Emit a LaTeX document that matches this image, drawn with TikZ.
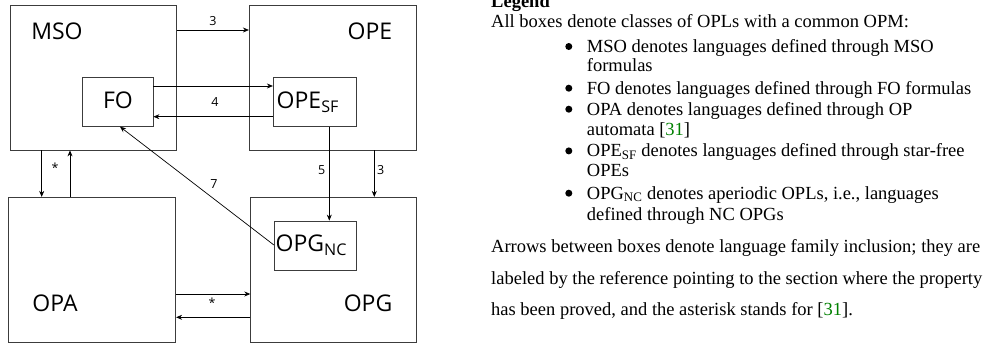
\documentclass[tikz,border=0pt]{standalone}
\usepackage{fontspec}
\setmainfont{Liberation Serif}
\newfontfamily\diagfont{Open Sans}
\usetikzlibrary{arrows.meta}
\definecolor{citegreen}{RGB}{0,128,0}
\definecolor{boxline}{RGB}{60,60,60}
\begin{document}
\begin{tikzpicture}[x=1pt,y=-1pt,
  box/.style={draw=boxline, line width=0.8pt, inner sep=0pt},
  big/.style={font=\diagfont\fontsize{23}{23}\selectfont, inner sep=0pt},
  num/.style={font=\diagfont\fontsize{12.5}{13}\selectfont, inner sep=0pt},
  arr/.style={-{Stealth[length=6pt,width=5pt]}, line width=0.7pt},
  dot/.style={circle, fill=black, minimum size=7pt, inner sep=0pt},
  leg/.style={anchor=base west, inner sep=0pt, font=\fontsize{18.5}{20}\selectfont}]
\useasboundingbox (0,0) rectangle (984,348);

% outer classes
\node[box, minimum width=166pt, minimum height=144.7pt] (MSO) at (93.7,77.65) {};
\node[box, minimum width=166.7pt, minimum height=144.7pt] (OPE) at (332.65,77.65) {};
\node[box, minimum width=167.4pt, minimum height=145pt] (OPA) at (92,269.8) {};
\node[box, minimum width=166pt, minimum height=145pt] (OPG) at (333.7,269.8) {};
% inner classes
\node[box, minimum width=70.7pt, minimum height=49.3pt] (FO) at (117.65,101.65) {};
\node[box, minimum width=82.7pt, minimum height=49.3pt] (OPESF) at (314.65,101.65) {};
\node[box, minimum width=81.7pt, minimum height=49.3pt] (OPGNC) at (315.15,245.65) {};

% class names
\node[big] (tMSO) at (57,31) {MSO};
\node[big] (tOPE) at (370,31) {OPE};
\node[big] (tFO) at (118,100.5) {FO};
\node[big] (tOPA) at (55,303) {OPA};
\node[big] (tOPG) at (368,303) {OPG};
\node[big, anchor=base west] (tOPESF) at (276.5,108.3) {OPE\textsubscript{SF}};
\node[big, anchor=base west] (tOPGNC) at (275.5,251.7) {OPG\textsubscript{NC}};

% inclusions
\draw[arr] (MSO.east |- 0,30) -- (OPE.west |- 0,30);
\draw[arr] (FO.east |- 0,86) -- (OPESF.west |- 0,86);
\draw[arr] (OPESF.west |- 0,116.7) -- (FO.east |- 0,116.7);
\draw[arr] (MSO.south -| 41.7,0) -- (OPA.north -| 41.7,0);
\draw[arr] (OPA.north -| 70,0) -- (MSO.south -| 70,0);
\draw[arr] (OPESF.south -| 329.3,0) -- (OPGNC.north -| 329.3,0);
\draw[arr] (OPE.south -| 374.3,0) -- (OPG.north -| 374.3,0);
\draw[arr] (OPGNC.west |- 0,245) -- (FO.south -| 120,0);
\draw[arr] (OPA.east |- 0,294) -- (OPG.west |- 0,294);
\draw[arr] (OPG.west |- 0,317.3) -- (OPA.east |- 0,317.3);

% section references
\node[num] (n3a) at (213,21) {3};
\node[num] (n4) at (215,102) {4};
\node[num] (s1) at (55,168) {*};
\node[num] (n5) at (321.7,170) {5};
\node[num] (n3b) at (380.7,170) {3};
\node[num] (n7) at (214,184) {7};
\node[num] (s2) at (212,303) {*};

% legend
\node[leg] (lg0) at (491,8) {\textbf{Legend}};
\node[leg] (lg1) at (491,27.5) {All boxes denote classes of OPLs with a common OPM:};
\foreach \yy/\nm in {52.3/b1,94/b2,115/b3,156.7/b4,199/b5}
  \node[dot] (\nm) at (568.8,\yy-5.8) {};
\node[leg] (i1a) at (586.7,52.3) {MSO denotes languages defined through MSO};
\node[leg] (i1b) at (586.7,71.7) {formulas};
\node[leg] (i2a) at (586.7,94) {FO denotes languages defined through FO formulas};
\node[leg] (i3a) at (586.7,115) {OPA denotes languages defined through OP};
\node[leg] (i3b) at (586.7,135) {automata [\textcolor{citegreen}{31}]};
\node[leg] (i4a) at (586.7,156.7) {OPE\textsubscript{SF} denotes languages defined through star-free};
\node[leg] (i4b) at (586.7,176.7) {OPEs};
\node[leg] (i5a) at (586.7,199) {OPG\textsubscript{NC} denotes aperiodic OPLs, i.e., languages};
\node[leg] (i5b) at (586.7,220) {defined through NC OPGs};
\node[leg] (p1) at (491,252.3) {Arrows between boxes denote language family inclusion; they are};
\node[leg] (p2) at (491,284) {labeled by the reference pointing to the section where the property};
\node[leg] (p3) at (491,315) {has been proved, and the asterisk stands for [\textcolor{citegreen}{31}].};
\end{tikzpicture}
\end{document}
